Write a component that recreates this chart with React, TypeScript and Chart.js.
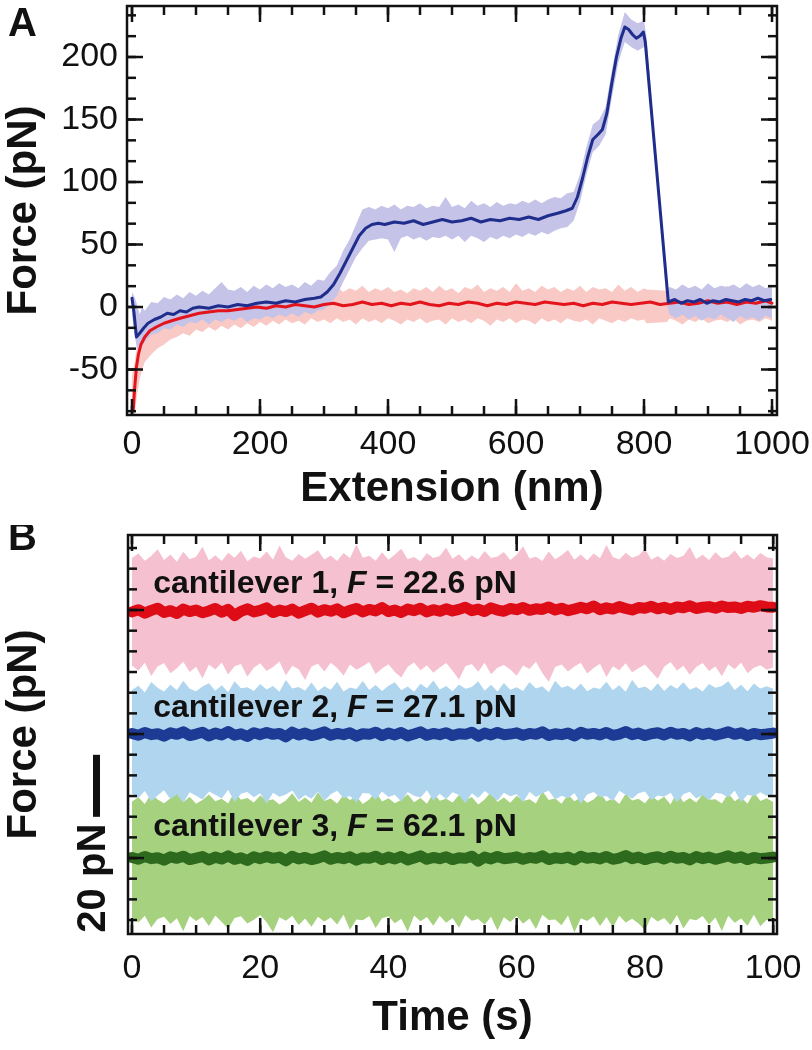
import React, { useEffect, useRef } from "react";
import { Chart, registerables } from "chart.js";

Chart.register(...registerables);

const FONT = '"Liberation Sans", Arial, Helvetica, sans-serif';
const INK = "#111111";

// ---------------- Panel A : force vs extension ----------------
const extBlue = [
  0, 3, 7, 12, 18, 25, 35, 45, 55, 65,
  75, 85, 95, 105, 120, 135, 150, 165, 180, 195,
  210, 225, 240, 255, 270, 285, 295, 305, 315, 325,
  335, 345, 355, 365, 375, 385, 395, 410, 425, 440,
  455, 470, 485, 500, 515, 530, 545, 560, 575, 590,
  605, 620, 635, 650, 665, 678, 688, 696, 704, 712,
  720, 728, 735, 742, 750, 757, 764, 770, 776, 782,
  788, 794, 799, 802, 838, 848, 858, 868, 878, 888,
  898, 908, 918, 928, 938, 948, 958, 968, 978, 988,
  998,
];
const forceBlue = [
  7, -4, -24, -21, -17, -13, -10, -8, -5, -6,
  -3, -4, -1, 0, -1, 1, 0, 2, 1, 3,
  4, 3, 5, 4, 6, 7, 8, 12, 18, 27,
  37, 47, 57, 63, 66, 67, 66, 68, 67, 69,
  66, 68, 70, 68, 69, 71, 68, 70, 69, 71,
  70, 72, 70, 73, 75, 77, 79, 88, 103, 120,
  134, 138, 142, 155, 180, 200, 215, 224, 222, 218,
  215, 217, 220, 212, 4, 6, 3, 5, 4, 6,
  3, 5, 4, 6, 5, 4, 6, 5, 7, 5,
  6,
];
const extRed = [
  2, 4, 7, 10, 14, 20, 28, 38, 50, 62,
  75, 90, 105, 120, 135, 150, 165, 180, 195, 210,
  225, 240, 255, 270, 285, 300, 315, 330, 345, 360,
  375, 390, 405, 420, 435, 450, 465, 480, 495, 510,
  525, 540, 555, 570, 585, 600, 615, 630, 645, 660,
  675, 690, 705, 720, 735, 750, 765, 780, 795, 810,
  825, 840, 855, 870, 885, 900, 915, 930, 945, 960,
  975, 990, 1000,
];
const forceRed = [
  -82, -66, -48, -38, -30, -24, -19, -16, -13, -11,
  -9, -7, -5, -4, -3, -3, -2, -1, 0, -1,
  1, 0, 2, 1, 0, 2, 3, 1, 2, 4,
  2, 3, 1, 3, 2, 4, 2, 1, 3, 2,
  4, 3, 1, 3, 2, 4, 3, 2, 4, 3,
  2, 3, 1, 3, 2, 4, 3, 2, 3, 4,
  2, 3, 4, 2, 3, 5, 3, 4, 2, 4,
  3, 5, 3,
];
// raw (unfiltered) data envelopes
const extBand = [
  0, 4, 8, 12, 16, 20, 30, 40, 50, 60,
  70, 80, 90, 100, 110, 120, 130, 140, 150, 160,
  170, 180, 190, 200, 210, 220, 230, 240, 250, 260,
  270, 280, 290, 300, 310, 320, 330, 340, 350, 360,
  370, 380, 390, 400, 410, 420, 430, 440, 450, 460,
  470, 480, 490, 500, 510, 520, 530, 540, 550, 560,
  570, 580, 590, 600, 610, 620, 630, 640, 650, 660,
  670, 680, 690, 700, 710, 720, 730, 740, 750, 760,
  770, 780, 790, 800, 804, 836, 840, 850, 860, 870,
  880, 890, 900, 910, 920, 930, 940, 950, 960, 970,
  980, 990, 1000,
];
const blueRawHigh = [
  12, 8, 2, -6, 0, -3, 4, 3, 8, 6,
  10, 7, 12, 9, 13, 10, 15, 20, 14, 13,
  16, 12, 17, 14, 18, 15, 19, 16, 18, 15,
  20, 17, 22, 21, 28, 33, 45, 54, 66, 78,
  80, 78, 81, 79, 82, 78, 81, 80, 83, 79,
  81, 80, 88, 80, 82, 79, 85, 81, 83, 80,
  84, 81, 83, 82, 85, 83, 86, 83, 86, 88,
  87, 91, 92, 106, 128, 146, 150, 160, 190, 218,
  236, 230, 227, 229, 216, 12, 16, 14, 18, 15,
  17, 14, 19, 15, 17, 16, 18, 15, 19, 16,
  18, 15, 17,
];
const blueRawLow = [
  -6, -22, -34, -33, -30, -28, -22, -21, -17, -18,
  -14, -16, -12, -13, -10, -14, -10, -12, -9, -11,
  -8, -12, -9, -10, -7, -9, -6, -8, -5, -8,
  -4, -6, -3, -2, 3, 9, 20, 30, 40, 47,
  53, 54, 55, 54, 44, 55, 57, 54, 56, 53,
  56, 55, 57, 54, 57, 52, 57, 55, 52, 56,
  54, 57, 55, 58, 56, 59, 57, 60, 58, 61,
  63, 64, 69, 84, 106, 124, 129, 138, 168, 196,
  212, 208, 205, 208, 204, 2, -6, -9, -6, -10,
  -7, -11, -8, -10, -6, -9, -12, -7, -10, -8,
  -11, -7, -9,
];
const redRawHigh = [
  -55, -45, -30, -22, -16, -12, -6, -4, -1, 1,
  2, 4, 3, 6, 4, 7, 5, 8, 6, 9,
  7, 10, 8, 11, 9, 12, 10, 13, 11, 14,
  12, 15, 11, 18, 13, 16, 12, 15, 13, 17,
  12, 15, 13, 16, 12, 14, 11, 15, 13, 16,
  12, 17, 13, 15, 11, 16, 14, 18, 12, 15,
  13, 16, 12, 19, 13, 15, 12, 17, 14, 16,
  12, 15, 13, 17, 12, 16, 14, 15, 12, 18,
  13, 16, 12, 15, 14, 13, 16, 12, 17, 13,
  15, 12, 16, 14, 12, 17, 13, 15, 12, 16,
  14, 13, 15,
];
const redRawLow = [
  -86, -86, -70, -58, -50, -44, -38, -33, -30, -26,
  -24, -21, -23, -18, -20, -16, -19, -15, -18, -14,
  -17, -13, -16, -12, -15, -11, -14, -10, -13, -11,
  -14, -9, -12, -10, -13, -9, -12, -10, -14, -9,
  -12, -10, -13, -9, -11, -14, -10, -12, -9, -13,
  -11, -10, -14, -9, -12, -10, -13, -9, -11, -15,
  -10, -12, -9, -13, -10, -11, -14, -9, -12, -10,
  -13, -9, -11, -12, -10, -14, -9, -11, -13, -10,
  -12, -9, -11, -10, -13, -12, -9, -11, -14, -10,
  -12, -9, -13, -11, -10, -12, -9, -14, -11, -10,
  -12, -9, -11,
];
const A_X_TICKS = [0, 200, 400, 600, 800, 1000];
const A_Y_TICKS = [-50, 0, 50, 100, 150, 200];

// ---------------- Panel B : force vs time ----------------
const timeS = Array.from({ length: 101 }, (_, i) => i);
const cant1Smooth = [
  79.4, 80.1, 79.0, 79.9, 80.6, 79.2, 79.8, 78.9, 80.3, 79.5,
  80.0, 79.1, 79.7, 80.5, 79.3, 80.2, 78.2, 79.6, 80.4, 79.4,
  79.9, 80.7, 79.2, 80.0, 79.5, 80.3, 79.0, 79.8, 80.6, 79.3,
  80.1, 79.6, 80.4, 79.1, 79.9, 80.5, 79.4, 80.2, 79.7, 80.8,
  79.5, 80.0, 79.2, 80.3, 79.8, 80.6, 79.4, 80.1, 79.6, 80.4,
  79.7, 80.2, 80.9, 79.8, 80.3, 79.5, 80.7, 80.0, 79.6, 80.5,
  80.1, 80.8, 79.9, 80.4, 80.2, 81.0, 80.0, 80.6, 79.8, 80.3,
  80.9, 80.4, 81.3, 80.1, 80.7, 80.3, 81.1, 80.5, 80.0, 80.8,
  80.6, 81.2, 80.4, 80.9, 80.2, 81.0, 80.7, 81.4, 80.5, 80.9,
  81.1, 80.6, 81.3, 80.8, 81.0, 80.5, 81.2, 80.9, 81.4, 81.0,
  80.9,
];
const cant1High = [
  96.8, 98.2, 95.9, 97.4, 99.6, 96.1, 97.9, 95.6, 98.8, 96.4,
  97.2, 100.4, 96.0, 97.7, 95.8, 98.5, 96.9, 99.1, 95.7, 97.3,
  96.6, 98.9, 96.2, 100.8, 97.0, 95.9, 98.1, 96.5, 97.8, 99.3,
  96.3, 97.6, 95.8, 98.4, 96.7, 101.2, 96.9, 97.5, 95.9, 98.6,
  96.2, 97.9, 99.8, 96.4, 97.1, 95.7, 98.3, 96.8, 97.4, 100.1,
  96.5, 98.0, 95.9, 97.6, 96.3, 99.0, 96.8, 97.3, 98.7, 96.1,
  97.8, 100.6, 96.6, 97.2, 95.8, 98.9, 96.4, 97.7, 99.4, 96.2,
  97.9, 96.0, 98.2, 96.7, 101.0, 97.1, 96.3, 98.5, 96.9, 97.6,
  99.7, 96.2, 97.4, 95.9, 98.1, 96.8, 97.5, 100.3, 96.4, 97.8,
  96.1, 98.6, 96.7, 97.2, 99.2, 96.5, 97.9, 96.3, 98.4, 97.0,
  96.6,
];
const cant1Low = [
  62.1, 60.4, 63.0, 58.7, 61.8, 62.9, 59.6, 61.2, 63.3, 60.0,
  61.7, 57.9, 62.4, 60.8, 63.1, 59.2, 61.9, 62.6, 58.5, 61.4,
  62.8, 60.3, 61.6, 63.4, 59.0, 62.0, 60.9, 57.4, 61.8, 62.7,
  60.2, 63.0, 61.3, 58.9, 62.4, 60.7, 61.9, 63.2, 59.4, 61.1,
  62.5, 60.0, 58.2, 61.7, 63.1, 60.6, 62.2, 59.8, 61.5, 62.9,
  60.4, 57.6, 61.9, 62.6, 60.1, 63.0, 59.3, 61.4, 62.3, 60.8,
  58.8, 62.1, 61.0, 63.3, 59.7, 56.9, 61.6, 62.4, 60.2, 61.8,
  63.0, 59.5, 61.3, 62.7, 58.4, 61.9, 60.6, 62.8, 59.9, 61.2,
  62.4, 60.1, 57.8, 61.7, 63.2, 60.5, 62.0, 59.1, 61.6, 62.9,
  60.3, 61.8, 58.6, 62.5, 60.9, 63.1, 59.6, 61.4, 62.2, 60.7,
  61.5,
];
const cant2Smooth = [
  40.2, 39.6, 40.5, 39.8, 40.1, 39.3, 40.4, 39.9, 40.7, 39.5,
  40.0, 40.6, 39.4, 40.3, 39.7, 40.8, 39.6, 40.1, 39.2, 40.4,
  39.8, 40.5, 39.9, 40.2, 39.1, 40.6, 39.7, 40.3, 39.5, 40.0,
  40.7, 39.6, 40.2, 39.8, 40.4, 39.3, 40.1, 39.9, 40.6, 39.5,
  40.3, 39.7, 40.5, 39.4, 40.0, 40.7, 39.6, 40.2, 39.8, 40.4,
  39.5, 40.1, 39.9, 40.6, 39.3, 40.3, 39.7, 40.5, 39.8, 40.0,
  40.4, 39.6, 40.2, 39.9, 40.7, 39.5, 40.1, 39.8, 40.3, 39.4,
  40.6, 39.9, 40.2, 39.7, 40.5, 39.6, 40.0, 40.8, 39.8, 40.3,
  39.5, 40.1, 40.4, 39.7, 40.6, 39.9, 40.2, 39.4, 40.5, 39.8,
  40.3, 39.6, 40.1, 40.7, 39.9, 40.4, 39.5, 40.2, 39.8, 40.0,
  40.3,
];
const cant2High = [
  54.2, 55.6, 53.4, 56.8, 54.9, 53.7, 55.9, 54.1, 57.2, 54.6,
  53.8, 55.3, 56.4, 54.0, 55.7, 53.5, 57.0, 54.8, 55.1, 53.9,
  56.1, 54.4, 55.5, 53.6, 57.4, 54.7, 55.2, 54.0, 56.6, 53.8,
  55.4, 54.3, 56.9, 53.7, 55.0, 54.5, 57.1, 54.2, 55.8, 53.9,
  55.6, 56.7, 54.1, 55.3, 53.6, 56.2, 54.8, 57.3, 54.4, 55.5,
  53.8, 56.0, 54.6, 55.2, 57.0, 54.0, 55.9, 53.7, 56.5, 54.3,
  55.1, 53.9, 56.8, 54.7, 55.4, 53.5, 57.2, 54.9, 55.6, 54.2,
  56.3, 53.8, 55.0, 54.5, 56.9, 54.1, 55.7, 53.6, 57.5, 54.8,
  55.3, 54.0, 56.4, 53.9, 55.8, 54.6, 56.7, 54.3, 55.2, 53.7,
  56.1, 54.9, 55.5, 57.0, 54.2, 55.9, 53.8, 56.3, 54.7, 55.4,
  54.6,
];
const cant2Low = [
  20.8, 19.4, 21.6, 18.3, 20.2, 21.9, 19.0, 20.6, 17.8, 21.2,
  20.1, 18.9, 21.5, 20.4, 19.2, 22.0, 18.1, 20.7, 21.3, 19.6,
  20.9, 17.6, 21.1, 19.8, 20.5, 21.8, 18.7, 20.3, 19.1, 21.4,
  18.4, 20.6, 21.7, 19.3, 20.0, 17.9, 21.0, 20.8, 18.8, 21.5,
  19.7, 20.4, 18.2, 21.3, 20.1, 19.5, 21.9, 18.6, 20.7, 19.0,
  21.2, 20.3, 17.7, 20.9, 19.4, 21.6, 20.2, 18.5, 21.1, 19.9,
  20.6, 18.0, 21.4, 19.7, 20.8, 21.8, 18.9, 20.1, 19.3, 21.0,
  17.5, 20.5, 21.3, 19.6, 20.0, 18.3, 21.7, 20.4, 19.1, 20.9,
  21.5, 18.7, 20.2, 19.8, 21.1, 17.9, 20.6, 21.4, 19.2, 20.3,
  18.6, 21.0, 20.7, 19.5, 21.8, 18.1, 20.4, 19.9, 21.2, 20.0,
  20.5,
];
const cant3Smooth = [
  0.2, -0.4, 0.5, -0.2, 0.1, -0.7, 0.4, -0.1, 0.6, -0.5,
  0.0, 0.5, -0.6, 0.3, -0.3, 0.7, -0.4, 0.1, -0.8, 0.4,
  -0.2, 0.5, -0.1, 0.3, -0.9, 0.6, -0.3, 0.2, -0.5, 0.0,
  0.7, -0.4, 0.2, -0.2, 0.4, -0.7, 0.1, -0.1, 0.6, -0.5,
  0.3, -0.3, 0.5, -0.6, 0.0, 0.7, -0.4, 0.2, -0.2, 0.4,
  -0.5, 0.1, -0.1, 0.6, -1.0, 0.3, -0.3, 0.5, -0.2, 0.0,
  0.4, -0.4, 0.2, -0.1, 0.7, -0.5, 0.1, -0.2, 0.3, -0.6,
  0.6, -0.1, 0.2, -0.3, 0.5, -0.4, 0.0, 0.8, -0.2, 0.3,
  -0.5, 0.1, 0.4, -0.3, 0.6, -0.1, 0.2, -0.6, 0.5, -0.2,
  0.3, -0.4, 0.1, 0.7, -0.1, 0.4, -0.5, 0.2, -0.2, 0.0,
  0.3,
];
const cant3High = [
  18.2, 19.6, 17.4, 20.8, 18.9, 17.7, 19.3, 21.1, 18.0, 19.8,
  17.5, 18.7, 20.5, 18.3, 19.1, 17.6, 21.4, 18.8, 19.4, 17.9,
  20.2, 18.5, 19.0, 17.3, 18.6, 20.9, 18.1, 19.5, 17.8, 21.2,
  18.4, 19.2, 17.6, 20.4, 18.7, 19.9, 17.4, 18.9, 21.5, 18.2,
  19.3, 17.7, 18.8, 20.6, 18.0, 19.4, 17.5, 21.0, 18.5, 19.1,
  17.9, 20.3, 18.6, 19.7, 17.3, 18.9, 21.3, 18.1, 19.5, 17.8,
  20.1, 18.4, 19.0, 17.6, 21.6, 18.7, 19.2, 17.5, 20.5, 18.3,
  19.6, 17.8, 18.9, 21.0, 18.2, 19.3, 17.4, 20.7, 18.6, 19.1,
  17.7, 20.2, 18.5, 19.8, 17.3, 21.4, 18.0, 19.4, 17.9, 20.6,
  18.8, 19.0, 17.6, 20.9, 18.3, 19.7, 17.5, 21.2, 18.4, 19.3,
  18.1,
];
const cant3Low = [
  -19.2, -20.8, -18.6, -22.4, -19.7, -18.9, -21.3, -19.4, -23.6, -18.7,
  -20.3, -19.0, -21.9, -18.5, -20.6, -22.8, -19.3, -18.8, -21.1, -19.9,
  -18.4, -20.7, -23.9, -19.1, -20.2, -18.6, -21.6, -19.5, -22.2, -18.9,
  -20.5, -19.2, -21.4, -18.3, -23.1, -19.8, -20.1, -18.7, -22.6, -19.4,
  -18.8, -21.0, -19.6, -23.8, -18.5, -20.4, -19.0, -21.8, -18.6, -20.9,
  -19.3, -22.5, -18.4, -20.2, -19.7, -21.5, -18.9, -23.4, -19.1, -20.6,
  -18.7, -21.2, -19.5, -22.9, -18.3, -20.0, -19.8, -21.7, -18.5, -24.0,
  -19.4, -20.3, -18.8, -21.9, -19.0, -22.3, -18.6, -20.8, -19.6, -21.1,
  -23.2, -18.9, -20.5, -19.3, -21.6, -18.4, -22.7, -19.7, -20.1, -18.7,
  -21.4, -19.2, -23.5, -18.6, -20.9, -19.5, -21.8, -18.3, -22.0, -19.9,
  -20.4,
];
const cantNames = ["cantilever 1, ", "cantilever 2, ", "cantilever 3, "];
const cantForces = ["22.6", "27.1", "62.1"];
const B_X_TICKS = [0, 20, 40, 60, 80, 100];
const B_Y_MAJOR = [0, 40, 80];
const SCALE_BAR_PN = 20;

// ---------------- styling ----------------
const C = {
  aBlue: "#1f2e8c",
  aBlueLight: "#c5c3e7",
  aRed: "#e4141d",
  aRedLight: "#f9c9c6",
  bRed: "#de0c17",
  bPink: "#f5c0d0",
  bBlue: "#1d3a94",
  bBlueLight: "#afd6ee",
  bGreen: "#2e6a1e",
  bGreenLight: "#a6d17f",
};

const pts = (xs: number[], ys: number[]) =>
  ys.map((y, i) => ({ x: xs[i], y }));

const frameTicks = {
  id: "frameTicks",
  afterDraw(chart: any, _args: any, o: any) {
    const { ctx, chartArea } = chart;
    const { left, right, top, bottom } = chartArea;
    const xs = chart.scales.x;
    const ys = chart.scales.y;
    ctx.save();
    ctx.strokeStyle = INK;
    ctx.lineWidth = 2.5;
    ctx.lineCap = "butt";
    const seg = (x1: number, y1: number, x2: number, y2: number) => {
      ctx.beginPath();
      ctx.moveTo(x1, y1);
      ctx.lineTo(x2, y2);
      ctx.stroke();
    };
    const xt = (v: number, len: number) => {
      const p = xs.getPixelForValue(v);
      seg(p, bottom, p, bottom - len);
      seg(p, top, p, top + len);
    };
    const yt = (v: number, len: number) => {
      const p = ys.getPixelForValue(v);
      seg(left, p, left + len, p);
      seg(right, p, right - len, p);
    };
    for (let v = o.xFrom; v <= o.xTo + 1e-6; v += o.xMinor) xt(v, o.minorLen);
    o.xMajor.forEach((v: number) => xt(v, o.majorLen));
    for (let v = o.yFrom; v <= o.yTo + 1e-6; v += o.yMinor) yt(v, o.minorLen);
    o.yMajor.forEach((v: number) => yt(v, o.majorLen));
    ctx.strokeRect(left, top, right - left, bottom - top);
    ctx.restore();
  },
};

const bandStyle = (color: string, fill: any) => ({
  borderWidth: 0,
  borderColor: "rgba(0,0,0,0)",
  backgroundColor: color,
  fill,
});

function axisX(min: number, max: number, ticks: number[], h: number, pad: number, title: string, titlePad: number) {
  return {
    type: "linear",
    min,
    max,
    grid: { display: false, drawTicks: false },
    border: { display: false },
    afterBuildTicks: (s: any) => {
      s.ticks = ticks.map((v) => ({ value: v }));
    },
    afterFit: (s: any) => {
      s.height = h;
      s.paddingLeft = 0;
      s.paddingRight = 0;
    },
    ticks: {
      font: { size: 34, family: FONT },
      color: INK,
      padding: pad,
      maxRotation: 0,
      minRotation: 0,
      autoSkip: false,
      callback: (v: any) => String(v),
    },
    title: {
      display: true,
      text: title,
      color: INK,
      font: { size: 42, weight: "bold", family: FONT, lineHeight: 1.2 },
      padding: { top: 0, bottom: titlePad },
    },
  };
}

function axisY(min: number, max: number, ticks: number[] | null, w: number) {
  return {
    type: "linear",
    min,
    max,
    grid: { display: false, drawTicks: false },
    border: { display: false },
    afterBuildTicks: (s: any) => {
      if (ticks) s.ticks = ticks.map((v) => ({ value: v }));
    },
    afterFit: (s: any) => {
      s.width = w;
      s.paddingTop = 0;
      s.paddingBottom = 0;
    },
    ticks: {
      display: !!ticks,
      font: { size: 34, family: FONT },
      color: INK,
      padding: 9,
      autoSkip: false,
      callback: (v: any) => String(v),
    },
    title: {
      display: true,
      text: "Force (pN)",
      color: INK,
      font: { size: 42, weight: "bold", family: FONT, lineHeight: 1.1 },
      padding: { top: 1, bottom: 0 },
    },
  };
}

const panelLetter = (letter: string, baseline: number) => ({
  id: "panelLetter" + letter,
  afterDraw(chart: any) {
    const ctx = chart.ctx;
    ctx.save();
    ctx.fillStyle = INK;
    ctx.font = `bold 40px ${FONT}`;
    ctx.textAlign = "left";
    ctx.textBaseline = "alphabetic";
    ctx.fillText(letter, 8, baseline);
    ctx.restore();
  },
});

const LABEL_T = 3.3;
const LABEL_Y = [85.5, 45.5, 7.0];

const bAnnotations = {
  id: "bAnnotations",
  afterDatasetsDraw(chart: any) {
    const { ctx } = chart;
    const xs = chart.scales.x;
    const ys = chart.scales.y;
    ctx.save();
    ctx.fillStyle = INK;
    ctx.textBaseline = "alphabetic";
    ctx.textAlign = "left";
    cantNames.forEach((name, i) => {
      let x = xs.getPixelForValue(LABEL_T);
      const y = ys.getPixelForValue(LABEL_Y[i]);
      ctx.font = `bold 32px ${FONT}`;
      ctx.fillText(name, x, y);
      x += ctx.measureText(name).width;
      ctx.font = `italic bold 32px ${FONT}`;
      ctx.fillText("F", x, y);
      x += ctx.measureText("F").width;
      ctx.font = `bold 32px ${FONT}`;
      ctx.fillText(` = ${cantForces[i]} pN`, x, y);
    });
    // 20 pN scale bar
    const yTop = ys.getPixelForValue(13.3 + SCALE_BAR_PN);
    const yBot = ys.getPixelForValue(13.3);
    ctx.fillRect(93, yTop, 7, yBot - yTop);
    ctx.save();
    ctx.translate(105, ys.getPixelForValue(-6.5));
    ctx.rotate(-Math.PI / 2);
    ctx.textAlign = "center";
    ctx.font = `bold 40px ${FONT}`;
    ctx.fillText(`${SCALE_BAR_PN} pN`, 0, 0);
    ctx.restore();
    ctx.restore();
  },
};

const baseOptions = (padTop: number) => ({
  animation: false,
  responsive: false,
  maintainAspectRatio: false,
  devicePixelRatio: 1,
  layout: { padding: { top: padTop, right: 35, left: 0, bottom: 0 } },
  elements: {
    point: { radius: 0, hoverRadius: 0 },
    line: { tension: 0, borderJoinStyle: "round", borderCapStyle: "round" },
  },
  events: [],
});

function configA(): any {
  return {
    type: "line",
    data: {
      datasets: [
        { data: pts(extBlue, forceBlue), borderColor: C.aBlue, borderWidth: 3, fill: false },
        { data: pts(extRed, forceRed), borderColor: C.aRed, borderWidth: 3, fill: false },
        { data: pts(extBand, blueRawHigh), ...bandStyle(C.aBlueLight, "+1") },
        { data: pts(extBand, blueRawLow), ...bandStyle(C.aBlueLight, false) },
        { data: pts(extBand, redRawHigh), ...bandStyle(C.aRedLight, "+1") },
        { data: pts(extBand, redRawLow), ...bandStyle(C.aRedLight, false) },
      ],
    },
    options: {
      ...baseOptions(6),
      plugins: {
        legend: { display: false },
        tooltip: { enabled: false },
        frameTicks: {
          xMajor: A_X_TICKS, xFrom: 0, xTo: 1000, xMinor: 50,
          yMajor: A_Y_TICKS, yFrom: -250 / 3, yTo: 240, yMinor: 50 / 3,
          majorLen: 16, minorLen: 9,
        },
      },
      scales: {
        x: axisX(-7.8, 1007.8, A_X_TICKS, 110, 9, "Extension (nm)", 10),
        y: axisY(-86.4, 240.8, A_Y_TICKS, 127),
      },
    },
    plugins: [frameTicks, panelLetter("A", 36)],
  };
}

function configB(): any {
  return {
    type: "line",
    data: {
      datasets: [
        { data: pts(timeS, cant1Smooth), borderColor: C.bRed, borderWidth: 11, fill: false },
        { data: pts(timeS, cant2Smooth), borderColor: C.bBlue, borderWidth: 11, fill: false },
        { data: pts(timeS, cant3Smooth), borderColor: C.bGreen, borderWidth: 11, fill: false },
        { data: pts(timeS, cant1High), ...bandStyle(C.bPink, "+1") },
        { data: pts(timeS, cant1Low), ...bandStyle(C.bPink, false) },
        { data: pts(timeS, cant2High), ...bandStyle(C.bBlueLight, "+1") },
        { data: pts(timeS, cant2Low), ...bandStyle(C.bBlueLight, false) },
        { data: pts(timeS, cant3High), ...bandStyle(C.bGreenLight, "+1") },
        { data: pts(timeS, cant3Low), ...bandStyle(C.bGreenLight, false) },
      ],
    },
    options: {
      ...baseOptions(10),
      plugins: {
        legend: { display: false },
        tooltip: { enabled: false },
        frameTicks: {
          xMajor: B_X_TICKS, xFrom: 0, xTo: 100, xMinor: 5,
          yMajor: B_Y_MAJOR, yFrom: -20, yTo: 100, yMinor: 20 / 3,
          majorLen: 16, minorLen: 9,
        },
      },
      scales: {
        x: axisX(-0.62, 100.6, B_X_TICKS, 116, 14, "Time (s)", 6),
        y: axisY(-24.5, 104.2, null, 128),
      },
    },
    plugins: [frameTicks, bAnnotations, panelLetter("B", 25)],
  };
}

export default function App() {
  const refA = useRef<HTMLCanvasElement>(null);
  const refB = useRef<HTMLCanvasElement>(null);
  useEffect(() => {
    const a = new Chart(refA.current as HTMLCanvasElement, configA());
    const b = new Chart(refB.current as HTMLCanvasElement, configB());
    return () => {
      a.destroy();
      b.destroy();
    };
  }, []);
  return (
    <div style={{ position: "absolute", left: 0, top: 0, width: 812, height: 1050, background: "#ffffff", overflow: "hidden" }}>
      <canvas ref={refA} width={812} height={525} style={{ position: "absolute", left: 0, top: 0, width: 812, height: 525 }} />
      <canvas ref={refB} width={812} height={525} style={{ position: "absolute", left: 0, top: 525, width: 812, height: 525 }} />
    </div>
  );
}
